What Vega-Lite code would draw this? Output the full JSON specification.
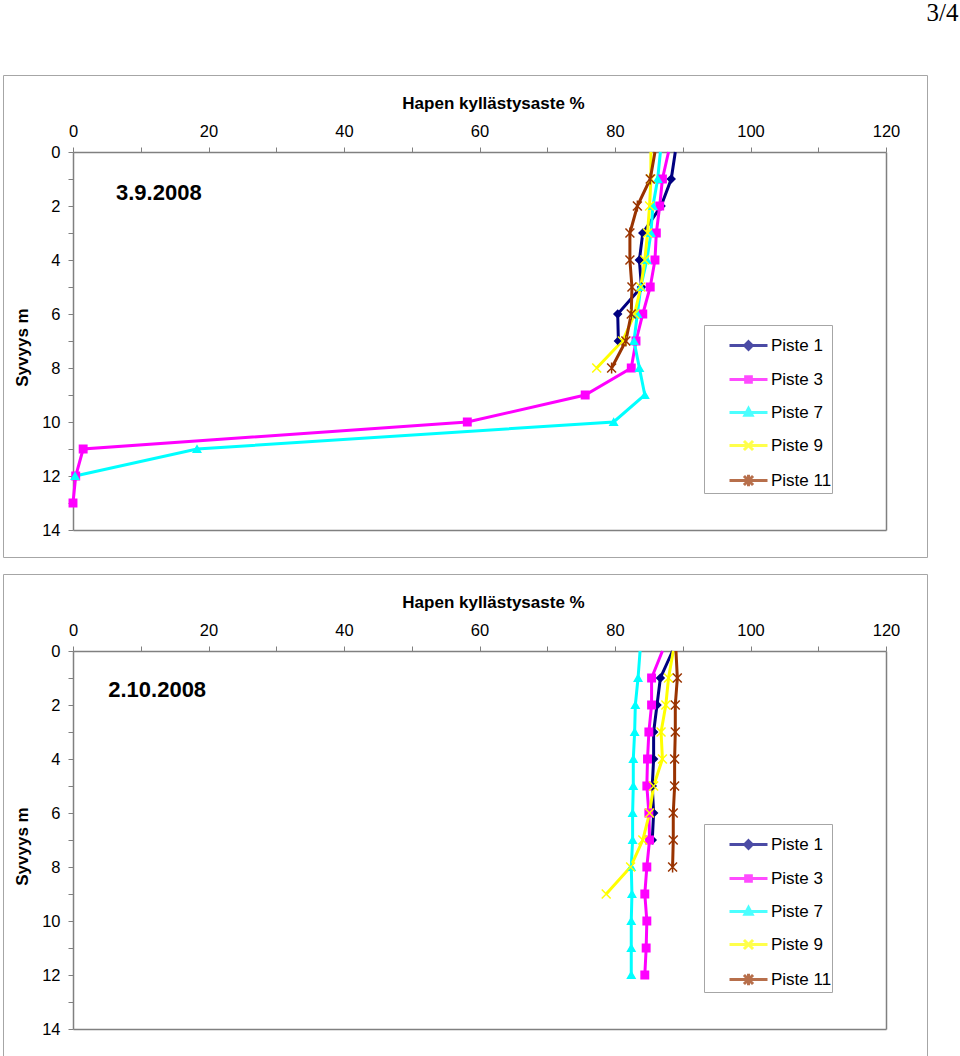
{
  "$schema": "https://vega.github.io/schema/vega-lite/v6.json",
  "padding": {"left": 2, "top": 0, "right": 0, "bottom": 0},
  "background": "white",
  "title": {"text": "3/4", "anchor": "end", "font": "Liberation Serif", "fontSize": 25, "fontWeight": "normal", "color": "#000", "dx": 31, "offset": 49},
  "datasets": {
    "obs": [
      {"panel": "3.9.2008", "s": "Piste 1", "d": 0, "v": 88.9},
      {"panel": "3.9.2008", "s": "Piste 1", "d": 1, "v": 88.3},
      {"panel": "3.9.2008", "s": "Piste 1", "d": 2, "v": 86.8},
      {"panel": "3.9.2008", "s": "Piste 1", "d": 3, "v": 84.1},
      {"panel": "3.9.2008", "s": "Piste 1", "d": 4, "v": 83.6},
      {"panel": "3.9.2008", "s": "Piste 1", "d": 5, "v": 83.9},
      {"panel": "3.9.2008", "s": "Piste 1", "d": 6, "v": 80.4},
      {"panel": "3.9.2008", "s": "Piste 1", "d": 7, "v": 80.5},
      {"panel": "3.9.2008", "s": "Piste 3", "d": 0, "v": 87.9},
      {"panel": "3.9.2008", "s": "Piste 3", "d": 1, "v": 87.0},
      {"panel": "3.9.2008", "s": "Piste 3", "d": 2, "v": 86.6},
      {"panel": "3.9.2008", "s": "Piste 3", "d": 3, "v": 86.1},
      {"panel": "3.9.2008", "s": "Piste 3", "d": 4, "v": 85.9},
      {"panel": "3.9.2008", "s": "Piste 3", "d": 5, "v": 85.2},
      {"panel": "3.9.2008", "s": "Piste 3", "d": 6, "v": 84.1},
      {"panel": "3.9.2008", "s": "Piste 3", "d": 7, "v": 83.1},
      {"panel": "3.9.2008", "s": "Piste 3", "d": 8, "v": 82.4},
      {"panel": "3.9.2008", "s": "Piste 3", "d": 9, "v": 75.6},
      {"panel": "3.9.2008", "s": "Piste 3", "d": 10, "v": 58.2},
      {"panel": "3.9.2008", "s": "Piste 3", "d": 11, "v": 1.5},
      {"panel": "3.9.2008", "s": "Piste 3", "d": 12, "v": 0.4},
      {"panel": "3.9.2008", "s": "Piste 3", "d": 13, "v": 0.0},
      {"panel": "3.9.2008", "s": "Piste 7", "d": 0, "v": 86.7},
      {"panel": "3.9.2008", "s": "Piste 7", "d": 1, "v": 86.3},
      {"panel": "3.9.2008", "s": "Piste 7", "d": 2, "v": 85.6},
      {"panel": "3.9.2008", "s": "Piste 7", "d": 3, "v": 85.3},
      {"panel": "3.9.2008", "s": "Piste 7", "d": 4, "v": 84.7},
      {"panel": "3.9.2008", "s": "Piste 7", "d": 5, "v": 83.8},
      {"panel": "3.9.2008", "s": "Piste 7", "d": 6, "v": 83.3},
      {"panel": "3.9.2008", "s": "Piste 7", "d": 7, "v": 82.8},
      {"panel": "3.9.2008", "s": "Piste 7", "d": 8, "v": 83.6},
      {"panel": "3.9.2008", "s": "Piste 7", "d": 9, "v": 84.4},
      {"panel": "3.9.2008", "s": "Piste 7", "d": 10, "v": 79.8},
      {"panel": "3.9.2008", "s": "Piste 7", "d": 11, "v": 18.3},
      {"panel": "3.9.2008", "s": "Piste 7", "d": 12, "v": 0.3},
      {"panel": "3.9.2008", "s": "Piste 9", "d": 0, "v": 85.3},
      {"panel": "3.9.2008", "s": "Piste 9", "d": 1, "v": 85.3},
      {"panel": "3.9.2008", "s": "Piste 9", "d": 2, "v": 85.1},
      {"panel": "3.9.2008", "s": "Piste 9", "d": 3, "v": 84.8},
      {"panel": "3.9.2008", "s": "Piste 9", "d": 4, "v": 84.4},
      {"panel": "3.9.2008", "s": "Piste 9", "d": 5, "v": 83.8},
      {"panel": "3.9.2008", "s": "Piste 9", "d": 6, "v": 82.9},
      {"panel": "3.9.2008", "s": "Piste 9", "d": 7, "v": 81.1},
      {"panel": "3.9.2008", "s": "Piste 9", "d": 8, "v": 77.3},
      {"panel": "3.9.2008", "s": "Piste 11", "d": 0, "v": 85.9},
      {"panel": "3.9.2008", "s": "Piste 11", "d": 1, "v": 85.2},
      {"panel": "3.9.2008", "s": "Piste 11", "d": 2, "v": 83.3},
      {"panel": "3.9.2008", "s": "Piste 11", "d": 3, "v": 82.2},
      {"panel": "3.9.2008", "s": "Piste 11", "d": 4, "v": 82.2},
      {"panel": "3.9.2008", "s": "Piste 11", "d": 5, "v": 82.5},
      {"panel": "3.9.2008", "s": "Piste 11", "d": 6, "v": 82.4},
      {"panel": "3.9.2008", "s": "Piste 11", "d": 7, "v": 81.6},
      {"panel": "3.9.2008", "s": "Piste 11", "d": 8, "v": 79.5},
      {"panel": "2.10.2008", "s": "Piste 1", "d": 0, "v": 88.5},
      {"panel": "2.10.2008", "s": "Piste 1", "d": 1, "v": 86.7},
      {"panel": "2.10.2008", "s": "Piste 1", "d": 2, "v": 86.2},
      {"panel": "2.10.2008", "s": "Piste 1", "d": 3, "v": 85.7},
      {"panel": "2.10.2008", "s": "Piste 1", "d": 4, "v": 85.7},
      {"panel": "2.10.2008", "s": "Piste 1", "d": 5, "v": 85.5},
      {"panel": "2.10.2008", "s": "Piste 1", "d": 6, "v": 85.7},
      {"panel": "2.10.2008", "s": "Piste 1", "d": 7, "v": 85.5},
      {"panel": "2.10.2008", "s": "Piste 3", "d": 0, "v": 87.0},
      {"panel": "2.10.2008", "s": "Piste 3", "d": 1, "v": 85.4},
      {"panel": "2.10.2008", "s": "Piste 3", "d": 2, "v": 85.4},
      {"panel": "2.10.2008", "s": "Piste 3", "d": 3, "v": 85.0},
      {"panel": "2.10.2008", "s": "Piste 3", "d": 4, "v": 84.8},
      {"panel": "2.10.2008", "s": "Piste 3", "d": 5, "v": 84.7},
      {"panel": "2.10.2008", "s": "Piste 3", "d": 6, "v": 85.0},
      {"panel": "2.10.2008", "s": "Piste 3", "d": 7, "v": 85.1},
      {"panel": "2.10.2008", "s": "Piste 3", "d": 8, "v": 84.7},
      {"panel": "2.10.2008", "s": "Piste 3", "d": 9, "v": 84.4},
      {"panel": "2.10.2008", "s": "Piste 3", "d": 10, "v": 84.7},
      {"panel": "2.10.2008", "s": "Piste 3", "d": 11, "v": 84.6},
      {"panel": "2.10.2008", "s": "Piste 3", "d": 12, "v": 84.4},
      {"panel": "2.10.2008", "s": "Piste 7", "d": 0, "v": 83.7},
      {"panel": "2.10.2008", "s": "Piste 7", "d": 1, "v": 83.4},
      {"panel": "2.10.2008", "s": "Piste 7", "d": 2, "v": 83.0},
      {"panel": "2.10.2008", "s": "Piste 7", "d": 3, "v": 82.9},
      {"panel": "2.10.2008", "s": "Piste 7", "d": 4, "v": 82.7},
      {"panel": "2.10.2008", "s": "Piste 7", "d": 5, "v": 82.7},
      {"panel": "2.10.2008", "s": "Piste 7", "d": 6, "v": 82.6},
      {"panel": "2.10.2008", "s": "Piste 7", "d": 7, "v": 82.6},
      {"panel": "2.10.2008", "s": "Piste 7", "d": 8, "v": 82.4},
      {"panel": "2.10.2008", "s": "Piste 7", "d": 9, "v": 82.5},
      {"panel": "2.10.2008", "s": "Piste 7", "d": 10, "v": 82.4},
      {"panel": "2.10.2008", "s": "Piste 7", "d": 11, "v": 82.4},
      {"panel": "2.10.2008", "s": "Piste 7", "d": 12, "v": 82.4},
      {"panel": "2.10.2008", "s": "Piste 9", "d": 0, "v": 88.6},
      {"panel": "2.10.2008", "s": "Piste 9", "d": 1, "v": 87.9},
      {"panel": "2.10.2008", "s": "Piste 9", "d": 2, "v": 87.5},
      {"panel": "2.10.2008", "s": "Piste 9", "d": 3, "v": 86.8},
      {"panel": "2.10.2008", "s": "Piste 9", "d": 4, "v": 87.0},
      {"panel": "2.10.2008", "s": "Piste 9", "d": 5, "v": 85.7},
      {"panel": "2.10.2008", "s": "Piste 9", "d": 6, "v": 85.1},
      {"panel": "2.10.2008", "s": "Piste 9", "d": 7, "v": 84.1},
      {"panel": "2.10.2008", "s": "Piste 9", "d": 8, "v": 82.3},
      {"panel": "2.10.2008", "s": "Piste 9", "d": 9, "v": 78.7},
      {"panel": "2.10.2008", "s": "Piste 11", "d": 0, "v": 89.0},
      {"panel": "2.10.2008", "s": "Piste 11", "d": 1, "v": 89.2},
      {"panel": "2.10.2008", "s": "Piste 11", "d": 2, "v": 88.9},
      {"panel": "2.10.2008", "s": "Piste 11", "d": 3, "v": 88.9},
      {"panel": "2.10.2008", "s": "Piste 11", "d": 4, "v": 88.8},
      {"panel": "2.10.2008", "s": "Piste 11", "d": 5, "v": 88.8},
      {"panel": "2.10.2008", "s": "Piste 11", "d": 6, "v": 88.6},
      {"panel": "2.10.2008", "s": "Piste 11", "d": 7, "v": 88.6},
      {"panel": "2.10.2008", "s": "Piste 11", "d": 8, "v": 88.5}
    ]
  },
  "spacing": 15,
  "vconcat": [
    {
      "width": 924,
      "height": 482,
      "data": {"name": "obs"},
      "transform": [{"filter": "datum.panel == '3.9.2008'"}],
      "resolve": {"scale": {"shape": "independent", "stroke": "independent", "fill": "independent"}, "axis": {"x": "independent", "y": "independent"}},
      "layer": [
        {
          "mark": {"type": "line", "strokeWidth": 3},
          "encoding": {
            "x": {"field": "v", "type": "quantitative", "scale": {"domain": [0, 120], "range": [70, 883], "nice": false, "zero": false},
              "axis": {"orient": "top", "offset": -77, "title": "Hapen kyllästysaste %", "values": [0,10,20,30,40,50,60,70,80,90,100,110,120], "labelExpr": "datum.value % 20 == 0 ? datum.label : ''", "labelPadding": 8, "titleX": 490, "titleY": -49, "titleBaseline": "middle", "labelFlush": false, "labelOverlap": false}},
            "y": {"field": "d", "type": "quantitative", "scale": {"domain": [0, 14], "range": [77, 455], "nice": false, "zero": false},
              "axis": {"orient": "left", "offset": -70, "title": "Syvyys m", "values": [0,1,2,3,4,5,6,7,8,9,10,11,12,13,14], "labelExpr": "datum.value % 2 == 0 ? datum.label : ''", "labelPadding": 8, "titleX": -51, "titleY": 272, "titleBaseline": "middle", "titleAngle": -90, "labelFlush": false, "labelOverlap": false}},
            "stroke": {"field": "s", "type": "nominal", "scale": {"domain": ["Piste 1","Piste 3","Piste 7","Piste 9","Piste 11"], "range": ["#000080","#ff00ff","#00ffff","#ffff00","#993300"]}, "legend": null},
            "order": {"field": "d", "type": "quantitative"}
          }
        },
        {
          "transform": [{"filter": "datum.d > 0"}],
          "mark": {"type": "point", "filled": true, "size": 55, "strokeWidth": 1.5, "opacity": 1},
          "encoding": {
            "x": {"field": "v", "type": "quantitative", "scale": {"domain": [0, 120], "range": [70, 883], "nice": false, "zero": false},
              "axis": {"orient": "bottom", "offset": -27, "labels": false, "ticks": false, "title": null}},
            "y": {"field": "d", "type": "quantitative", "scale": {"domain": [0, 14], "range": [77, 455], "nice": false, "zero": false},
              "axis": {"orient": "right", "offset": -41, "labels": false, "ticks": false, "title": null}},
            "stroke": {"field": "s", "type": "nominal", "scale": {"domain": ["Piste 1","Piste 3","Piste 7","Piste 9","Piste 11"], "range": ["#000080","#ff00ff","#00ffff","#ffff00","#993300"]}, "legend": null},
            "fill": {"field": "s", "type": "nominal", "scale": {"domain": ["Piste 1","Piste 3","Piste 7","Piste 9","Piste 11"], "range": ["#000080","#ff00ff","#00ffff","#ffff00","#993300"]}, "legend": null},
            "shape": {"field": "s", "type": "nominal", "scale": {"domain": ["Piste 1","Piste 3","Piste 7","Piste 9","Piste 11"], "range": ["diamond","square","triangle-up","M-1.2,-1.2L1.2,1.2M-1.2,1.2L1.2,-1.2","M-1.2,-1.2L1.2,1.2M-1.2,1.2L1.2,-1.2M0,-1.5L0,1.5"]}, "legend": null}
          }
        },
        {
          "transform": [{"filter": "datum.d < 0"}],
          "mark": {"type": "point", "filled": true},
          "encoding": {
            "stroke": {"field": "s", "type": "nominal", "title": null, "scale": {"domain": ["Piste 1","Piste 3","Piste 7","Piste 9","Piste 11"], "range": ["#000080","#ff00ff","#00ffff","#ffff00","#993300"]}},
            "fill": {"field": "s", "type": "nominal", "title": null, "scale": {"domain": ["Piste 1","Piste 3","Piste 7","Piste 9","Piste 11"], "range": ["#000080","#ff00ff","#00ffff","#ffff00","#993300"]}},
            "shape": {"field": "s", "type": "nominal", "title": null, "scale": {"domain": ["Piste 1","Piste 3","Piste 7","Piste 9","Piste 11"], "range": [
              "M-1,0H1M0,-0.2L0.2,0L0,0.2L-0.2,0Z",
              "M-1,0H1M-0.15,-0.15H0.15V0.15H-0.15Z",
              "M-1,0H1M0,-0.21L0.19,0.15H-0.19Z",
              "M-1,0H1M-0.24,-0.24L0.24,0.24M-0.24,0.24L0.24,-0.24",
              "M-1,0H1M-0.24,-0.24L0.24,0.24M-0.24,0.24L0.24,-0.24M0,-0.3V0.3"]},
              "legend": {"orient": "none", "legendX": 701, "legendY": 250}}
          }
        },
        {
          "data": {"values": [{"t": "3.9.2008"}]},
          "mark": {"type": "text", "align": "left", "baseline": "middle", "fontSize": 22, "fontWeight": "bold", "font": "Liberation Sans", "color": "#000"},
          "encoding": {
            "x": {"datum": 6.35, "type": "quantitative", "axis": null},
            "y": {"datum": 1.52, "type": "quantitative", "axis": null},
            "text": {"field": "t", "type": "nominal"}
          }
        }
      ]
    },
    {
      "width": 924,
      "height": 482,
      "data": {"name": "obs"},
      "transform": [{"filter": "datum.panel == '2.10.2008'"}],
      "resolve": {"scale": {"shape": "independent", "stroke": "independent", "fill": "independent"}, "axis": {"x": "independent", "y": "independent"}},
      "layer": [
        {
          "mark": {"type": "line", "strokeWidth": 3},
          "encoding": {
            "x": {"field": "v", "type": "quantitative", "scale": {"domain": [0, 120], "range": [70, 883], "nice": false, "zero": false},
              "axis": {"orient": "top", "offset": -77, "title": "Hapen kyllästysaste %", "values": [0,10,20,30,40,50,60,70,80,90,100,110,120], "labelExpr": "datum.value % 20 == 0 ? datum.label : ''", "labelPadding": 8, "titleX": 490, "titleY": -49, "titleBaseline": "middle", "labelFlush": false, "labelOverlap": false}},
            "y": {"field": "d", "type": "quantitative", "scale": {"domain": [0, 14], "range": [77, 455], "nice": false, "zero": false},
              "axis": {"orient": "left", "offset": -70, "title": "Syvyys m", "values": [0,1,2,3,4,5,6,7,8,9,10,11,12,13,14], "labelExpr": "datum.value % 2 == 0 ? datum.label : ''", "labelPadding": 8, "titleX": -51, "titleY": 272, "titleBaseline": "middle", "titleAngle": -90, "labelFlush": false, "labelOverlap": false}},
            "stroke": {"field": "s", "type": "nominal", "scale": {"domain": ["Piste 1","Piste 3","Piste 7","Piste 9","Piste 11"], "range": ["#000080","#ff00ff","#00ffff","#ffff00","#993300"]}, "legend": null},
            "order": {"field": "d", "type": "quantitative"}
          }
        },
        {
          "transform": [{"filter": "datum.d > 0"}],
          "mark": {"type": "point", "filled": true, "size": 55, "strokeWidth": 1.5, "opacity": 1},
          "encoding": {
            "x": {"field": "v", "type": "quantitative", "scale": {"domain": [0, 120], "range": [70, 883], "nice": false, "zero": false},
              "axis": {"orient": "bottom", "offset": -27, "labels": false, "ticks": false, "title": null}},
            "y": {"field": "d", "type": "quantitative", "scale": {"domain": [0, 14], "range": [77, 455], "nice": false, "zero": false},
              "axis": {"orient": "right", "offset": -41, "labels": false, "ticks": false, "title": null}},
            "stroke": {"field": "s", "type": "nominal", "scale": {"domain": ["Piste 1","Piste 3","Piste 7","Piste 9","Piste 11"], "range": ["#000080","#ff00ff","#00ffff","#ffff00","#993300"]}, "legend": null},
            "fill": {"field": "s", "type": "nominal", "scale": {"domain": ["Piste 1","Piste 3","Piste 7","Piste 9","Piste 11"], "range": ["#000080","#ff00ff","#00ffff","#ffff00","#993300"]}, "legend": null},
            "shape": {"field": "s", "type": "nominal", "scale": {"domain": ["Piste 1","Piste 3","Piste 7","Piste 9","Piste 11"], "range": ["diamond","square","triangle-up","M-1.2,-1.2L1.2,1.2M-1.2,1.2L1.2,-1.2","M-1.2,-1.2L1.2,1.2M-1.2,1.2L1.2,-1.2M0,-1.5L0,1.5"]}, "legend": null}
          }
        },
        {
          "transform": [{"filter": "datum.d < 0"}],
          "mark": {"type": "point", "filled": true},
          "encoding": {
            "stroke": {"field": "s", "type": "nominal", "title": null, "scale": {"domain": ["Piste 1","Piste 3","Piste 7","Piste 9","Piste 11"], "range": ["#000080","#ff00ff","#00ffff","#ffff00","#993300"]}},
            "fill": {"field": "s", "type": "nominal", "title": null, "scale": {"domain": ["Piste 1","Piste 3","Piste 7","Piste 9","Piste 11"], "range": ["#000080","#ff00ff","#00ffff","#ffff00","#993300"]}},
            "shape": {"field": "s", "type": "nominal", "title": null, "scale": {"domain": ["Piste 1","Piste 3","Piste 7","Piste 9","Piste 11"], "range": [
              "M-1,0H1M0,-0.2L0.2,0L0,0.2L-0.2,0Z",
              "M-1,0H1M-0.15,-0.15H0.15V0.15H-0.15Z",
              "M-1,0H1M0,-0.21L0.19,0.15H-0.19Z",
              "M-1,0H1M-0.24,-0.24L0.24,0.24M-0.24,0.24L0.24,-0.24",
              "M-1,0H1M-0.24,-0.24L0.24,0.24M-0.24,0.24L0.24,-0.24M0,-0.3V0.3"]},
              "legend": {"orient": "none", "legendX": 701, "legendY": 250}}
          }
        },
        {
          "data": {"values": [{"t": "2.10.2008"}]},
          "mark": {"type": "text", "align": "left", "baseline": "middle", "fontSize": 22, "fontWeight": "bold", "font": "Liberation Sans", "color": "#000"},
          "encoding": {
            "x": {"datum": 5.2, "type": "quantitative", "axis": null},
            "y": {"datum": 1.45, "type": "quantitative", "axis": null},
            "text": {"field": "t", "type": "nominal"}
          }
        }
      ]
    }
  ],
  "config": {
    "view": {"stroke": "#a6a6a6", "strokeWidth": 1},
    "font": "Liberation Sans",
    "axis": {"labelFont": "Liberation Sans", "labelFontSize": 16.5, "labelColor": "#000", "titleFont": "Liberation Sans", "titleFontSize": 17, "titleFontWeight": "bold", "titleColor": "#000", "domainColor": "#808080", "domainWidth": 1.5, "tickColor": "#808080", "tickSize": 5, "tickWidth": 1, "grid": false},
    "legend": {"symbolSize": 1444, "symbolStrokeWidth": 3, "labelFont": "Liberation Sans", "labelFontSize": 17, "labelColor": "#000", "rowPadding": 3, "padding": 0, "strokeColor": "#a6a6a6", "fillColor": "white", "symbolOffset": 24, "labelOffset": 2}
  }
}
